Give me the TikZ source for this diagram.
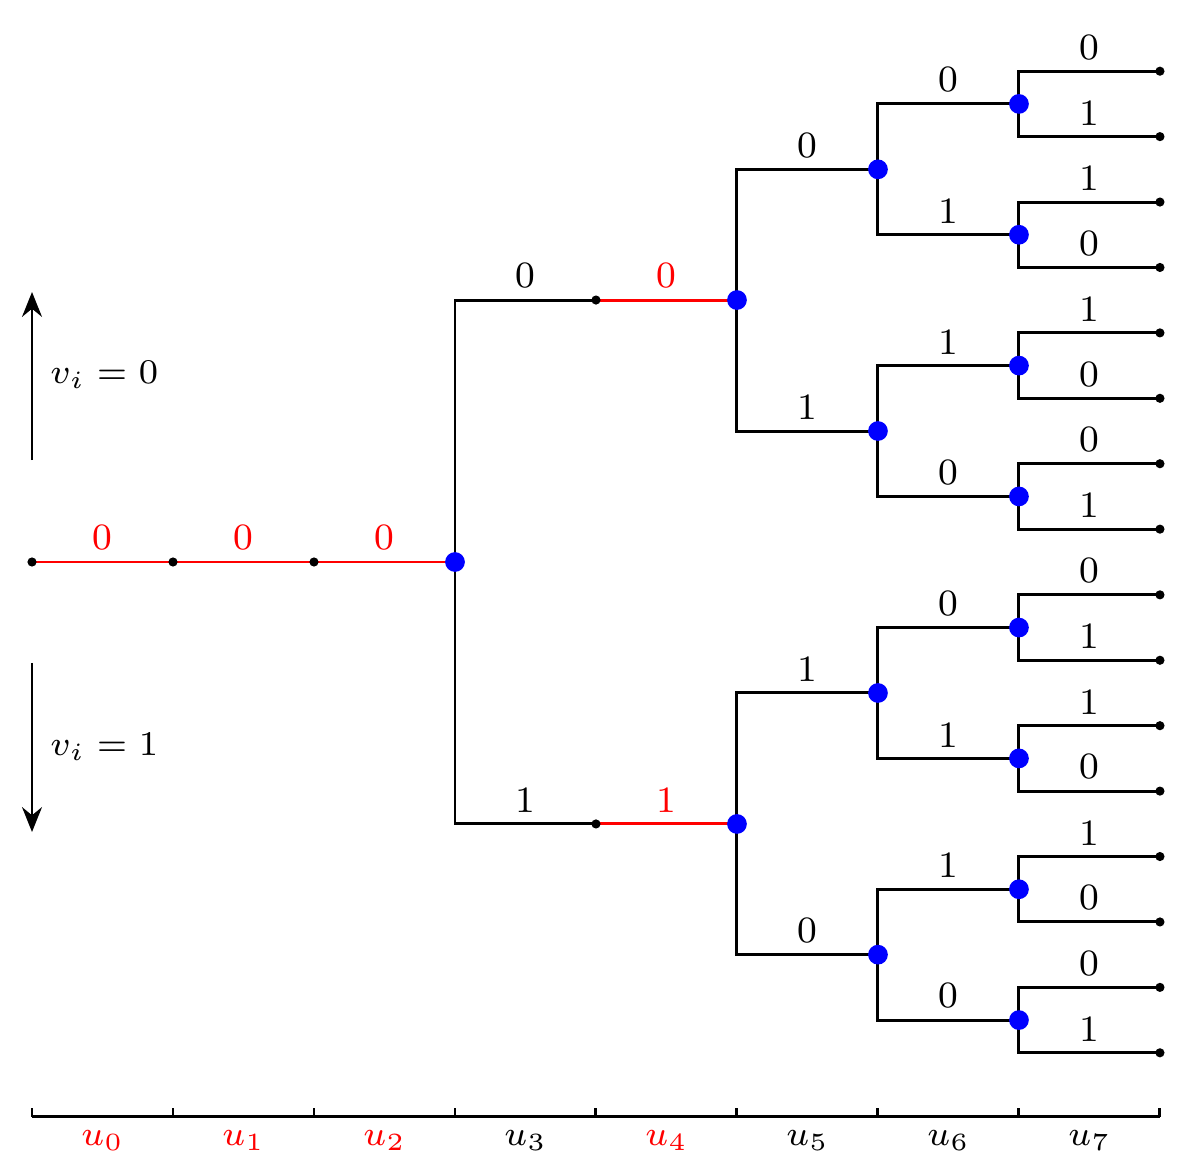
\documentclass[tikz,border=0pt]{standalone}
\usetikzlibrary{arrows.meta}
\begin{document}
\begin{tikzpicture}[x=1cm,y=1cm,line width=0.6pt,
  lbl/.style={font=\fontsize{7.5}{8}\selectfont,above,inner sep=2pt},
  bdot/.style={circle,fill=blue,inner sep=0pt,minimum size=0.14cm},
  kdot/.style={circle,fill=black,inner sep=0pt,minimum size=0.065cm}]
\useasboundingbox (-0.227,-4.348) rectangle (8.284,3.986);
\foreach \k in {0,1,2}{ \coordinate (c\k) at (\k,0); }
\coordinate (R) at (3,0);
\draw[red] (c0) -- node[lbl]{0} (c1);
\draw[red] (c1) -- node[lbl]{0} (c2);
\draw[red] (c2) -- node[lbl]{0} (R);
\foreach \k in {0,1,2}{ \node[kdot] at (c\k) {}; }
\coordinate (A) at (4,1.858); \coordinate (B) at (4,-1.858);
\draw (R) |- node[lbl,pos=0.75]{0} (A);
\draw (R) |- node[lbl,pos=0.75]{1} (B);
\coordinate (A5) at (5,1.858); \coordinate (B5) at (5,-1.858);
\draw[red] (A) -- node[lbl]{0} (A5);
\draw[red] (B) -- node[lbl]{1} (B5);
\node[kdot] (Ad) at (A) {}; \node[kdot] (Bd) at (B) {};
\foreach \p/\y/\l in {A5/2.785/0,A5/0.929/1,B5/-0.929/1,B5/-2.785/0}{
  \draw (\p) |- node[lbl,pos=0.75]{\l} (6,\y);
}
\foreach \y/\u/\d in {2.785/0/1,0.929/1/0,-0.929/0/1,-2.785/1/0}{
  \coordinate (n6) at (6,\y);
  \pgfmathsetmacro\ya{\y+0.464}\pgfmathsetmacro\yb{\y-0.464}
  \draw (n6) |- node[lbl,pos=0.75]{\u} (7,\ya);
  \draw (n6) |- node[lbl,pos=0.75]{\d} (7,\yb);
}
\foreach \y/\u/\d in {3.249/0/1,2.321/1/0,1.393/1/0,0.465/0/1,-0.465/0/1,-1.393/1/0,-2.321/1/0,-3.249/0/1}{
  \coordinate (n7) at (7,\y);
  \pgfmathsetmacro\ya{\y+0.232}\pgfmathsetmacro\yb{\y-0.232}
  \coordinate (la) at (8,\ya); \coordinate (lb) at (8,\yb);
  \draw (n7) |- node[lbl,pos=0.75]{\u} (la);
  \draw (n7) |- node[lbl,pos=0.75]{\d} (lb);
  \node[kdot] at (la) {}; \node[kdot] at (lb) {};
  \node[bdot] at (n7) {};
}
\node[bdot] at (R) {}; \node[bdot] at (A5) {}; \node[bdot] at (B5) {};
\foreach \y in {2.785,0.929,-0.929,-2.785}{\node[bdot] at (6,\y) {};}
\coordinate (ua) at (0,0.723); \coordinate (ub) at (0,1.915);
\coordinate (da) at (0,-0.716); \coordinate (db) at (0,-1.915);
\draw[-{Stealth[length=5pt,width=4pt]}] (ua) -- (ub);
\draw[-{Stealth[length=5pt,width=4pt]}] (da) -- (db);
\node[font=\fontsize{7.5}{8}\selectfont,anchor=west] (v0) at (0.0,1.33) {$v_i = 0$};
\node[font=\fontsize{7.5}{8}\selectfont,anchor=west] (v1) at (0.0,-1.31) {$v_i = 1$};
\coordinate (x0) at (0,-3.936); \coordinate (x8) at (8,-3.936);
\draw (x0) -- (x8);
\foreach \k/\c in {0/red,1/red,2/red,3/black,4/red,5/black,6/black,7/black}{
  \draw (\k,-3.936) -- (\k,-3.87);
  \node[font=\fontsize{7.5}{8}\selectfont,text=\c] (u\k) at (\k+0.5,-4.1) {$u_{\k}$};
}
\draw (8,-3.936) -- (8,-3.87);
\end{tikzpicture}
\end{document}
